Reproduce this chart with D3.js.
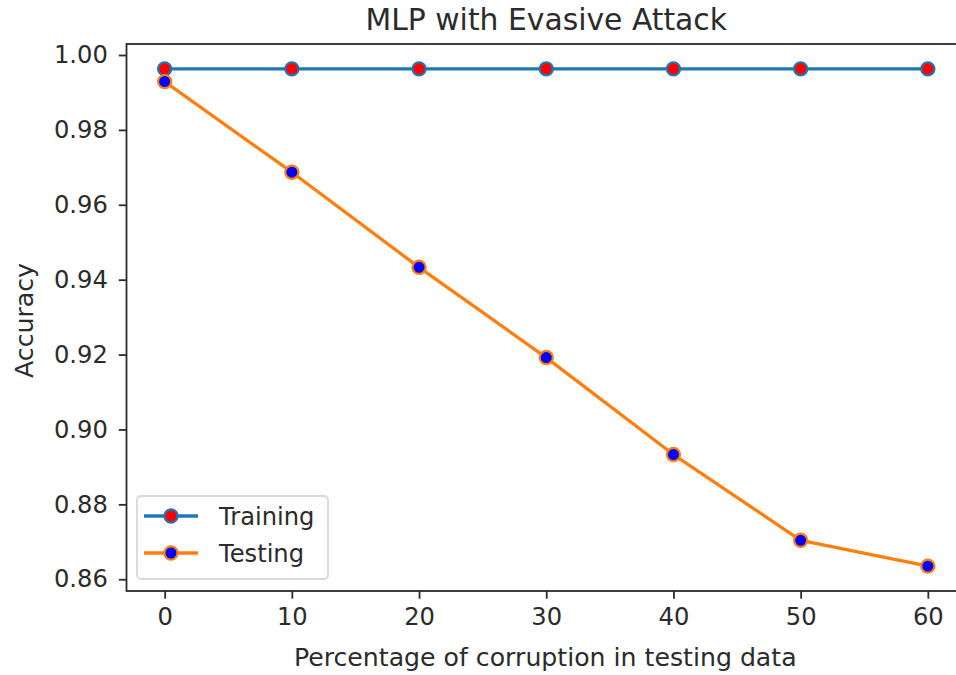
<!DOCTYPE html>
<html>
<head>
<meta charset="utf-8">
<script src="https://cdn.jsdelivr.net/npm/d3@7"></script>
<style>
  html, body { margin: 0; padding: 0; background: #fff; }
  svg { display: block; font-family: "DejaVu Sans", sans-serif; }
</style>
</head>
<body>
<svg id="chart" width="956" height="675"></svg>
<script>
// Corruption levels (%) on the x axis
const corruption = [0, 10, 20, 30, 40, 50, 60];
// Accuracy on the training set and the (evasion-attacked) testing set
const trainingAcc = [0.9963, 0.9963, 0.9963, 0.9963, 0.9963, 0.9963, 0.9963];
const testingAcc  = [0.9929, 0.9687, 0.9433, 0.9192, 0.8933, 0.8704, 0.8635];
const xTicks = [0, 10, 20, 30, 40, 50, 60];
const yTicks = [0.86, 0.88, 0.90, 0.92, 0.94, 0.96, 0.98, 1.00];

const series = [
  { name: "Training", values: trainingAcc, line: "#1f77b4", face: "#ff0000" },
  { name: "Testing",  values: testingAcc,  line: "#ff7f0e", face: "#0000ff" }
];

const svg = d3.select("#chart");
const plot = { left: 126.5, right: 966, top: 44, bottom: 591 };
const textColor = "#2b2b2b";
const fontSize = 24.2;

// Data extent padded by 5% on each side
const xExt = d3.extent(corruption);
const xPad = (xExt[1] - xExt[0]) * 0.05;
const allY = trainingAcc.concat(testingAcc);
const yExt = d3.extent(allY);
const yPad = (yExt[1] - yExt[0]) * 0.05;

const x = d3.scaleLinear().domain([xExt[0] - xPad, xExt[1] + xPad]).range([plot.left, plot.right]);
const y = d3.scaleLinear().domain([yExt[0] - yPad, yExt[1] + yPad]).range([plot.bottom, plot.top]);

// Axes
const xAxis = d3.axisBottom(x).tickValues(xTicks).tickFormat(d3.format("d")).tickSizeOuter(0).tickSize(7.7).tickPadding(9);
const yAxis = d3.axisLeft(y).tickValues(yTicks).tickFormat(d3.format(".2f")).tickSizeOuter(0).tickSize(7.7).tickPadding(11);

const gx = svg.append("g").attr("transform", `translate(0,${plot.bottom})`).call(xAxis);
const gy = svg.append("g").attr("transform", `translate(${plot.left},0)`).call(yAxis);
[gx, gy].forEach(g => {
  g.select(".domain").remove();
  g.selectAll(".tick line").attr("stroke", textColor).attr("stroke-width", 1.8);
  g.selectAll(".tick text").attr("fill", textColor).attr("font-size", fontSize)
    .attr("font-family", "DejaVu Sans, sans-serif");
});

// Spines
svg.append("rect")
  .attr("x", plot.left).attr("y", plot.top)
  .attr("width", plot.right - plot.left).attr("height", plot.bottom - plot.top)
  .attr("fill", "none").attr("stroke", textColor).attr("stroke-width", 1.8);

// Lines and markers
const line = d3.line().x((d, i) => x(corruption[i])).y(d => y(d));
series.forEach(s => {
  svg.append("path").datum(s.values)
    .attr("d", line).attr("fill", "none")
    .attr("stroke", s.line).attr("stroke-width", 3.3)
    .attr("stroke-linejoin", "round").attr("stroke-linecap", "square");
});
series.forEach(s => {
  svg.append("g").selectAll("circle").data(s.values).join("circle")
    .attr("cx", (d, i) => x(corruption[i])).attr("cy", d => y(d))
    .attr("r", 6.6).attr("fill", s.face)
    .attr("stroke", s.line).attr("stroke-width", 2.2);
});

// Title and axis labels
svg.append("text").attr("x", (plot.left + plot.right) / 2).attr("y", 30)
  .attr("text-anchor", "middle").attr("font-size", 29.8).attr("fill", textColor)
  .text("MLP with Evasive Attack");
svg.append("text").attr("x", (plot.left + plot.right) / 2 - 1).attr("y", 666)
  .attr("text-anchor", "middle").attr("font-size", 25.2).attr("fill", textColor)
  .text("Percentage of corruption in testing data");
svg.append("text").attr("transform", `translate(33,${(plot.top + plot.bottom) / 2 + 3}) rotate(-90)`)
  .attr("text-anchor", "middle").attr("font-size", 25.2).attr("fill", textColor)
  .text("Accuracy");

// Legend
const legend = svg.append("g");
legend.append("rect").attr("x", 137).attr("y", 496).attr("width", 191).attr("height", 83)
  .attr("rx", 4).attr("fill", "#fff").attr("fill-opacity", 0.8)
  .attr("stroke", "#d9d9d9").attr("stroke-width", 1.8);
series.forEach((s, i) => {
  const ly = 516 + i * 37;
  legend.append("line").attr("x1", 144).attr("x2", 198).attr("y1", ly).attr("y2", ly)
    .attr("stroke", s.line).attr("stroke-width", 3.3);
  legend.append("circle").attr("cx", 171).attr("cy", ly).attr("r", 6.6)
    .attr("fill", s.face).attr("stroke", s.line).attr("stroke-width", 2.2);
  legend.append("text").attr("x", 219).attr("y", ly).attr("dy", "0.36em")
    .attr("font-size", fontSize).attr("fill", textColor).text(s.name);
});
</script>
</body>
</html>
